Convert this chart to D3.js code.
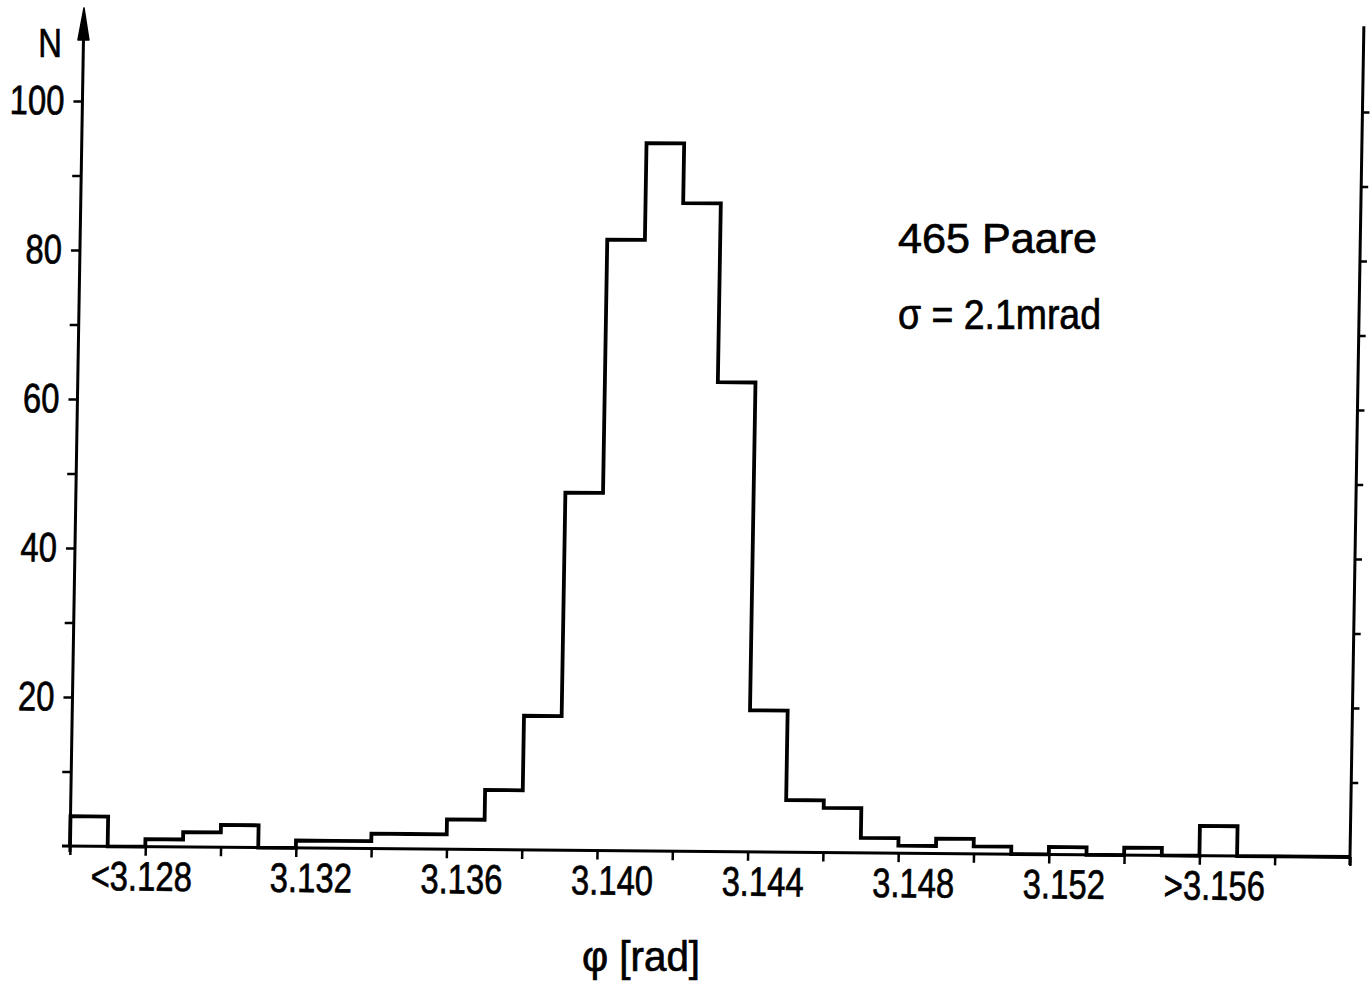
<!DOCTYPE html>
<html>
<head>
<meta charset="utf-8">
<script src="https://cdn.jsdelivr.net/npm/d3@7/dist/d3.min.js"></script>
<style>
  html, body { margin: 0; padding: 0; background: #fff; }
  svg { display: block; }
  text { font-family: "Liberation Sans", Arial, sans-serif; fill: #000; stroke: #000; stroke-width: 0.7px; }
</style>
</head>
<body>
<svg id="chart" width="1370" height="985"></svg>
<script>
// Histogram of the pair angle φ, bin width 1 mrad, starting at 3.126 rad
const binStart = 3.126;
const binWidth = 0.001;
// counts per bin (first bin = underflow "<3.128", bin at 3.156 = overflow ">3.156")
const counts = [4, 0, 1, 2, 3, 0, 1, 1, 2, 2, 4, 8, 18, 48, 82, 95, 87, 63, 19, 7,
                6, 2, 1, 2, 1, 0, 1, 0, 1, 0, 4, 0, 0, 0];

const xDomain = [3.126, 3.160];
const xTicks = [3.126, 3.128, 3.130, 3.132, 3.134, 3.136, 3.138, 3.140, 3.142,
                3.144, 3.146, 3.148, 3.150, 3.152, 3.154, 3.156, 3.158, 3.160];
const xLabelValues = [3.128, 3.132, 3.136, 3.140, 3.144, 3.148, 3.152, 3.156];
const xLabels = ["<3.128", "3.132", "3.136", "3.140", "3.144", "3.148", "3.152", ">3.156"];

const yTicks = [0, 10, 20, 30, 40, 50, 60, 70, 80, 90, 100];
const yLabelValues = [20, 40, 60, 80, 100];
const rightTicks = [10, 20, 30, 40, 50, 60, 70, 80, 90, 100];

const annotations = ["465 Paare", "σ = 2.1mrad"];
const xTitle = "φ [rad]";
const yTitle = "N";

const svg = d3.select("#chart");

// lettering is narrow: regular face squeezed horizontally
const squeeze = 0.8;
const labelSize = 41;

// plot frame: origin at (φ = 3.126, N = 0); slightly sheared like the drawn original
const W = 1280, H = 745;
const x = d3.scaleLinear().domain(xDomain).range([0, W]);
const y = d3.scaleLinear().domain([0, 100]).range([0, -H]);

const plot = svg.append("g")
  .attr("transform", "translate(70,846) matrix(1,0.0086,-0.0167,1,0,0)");

const axisStroke = 3;

// x axis baseline
plot.append("line")
  .attr("x1", x(xDomain[0]) - 8).attr("x2", x(xDomain[1]))
  .attr("y1", y(0)).attr("y2", y(0))
  .attr("stroke", "#000").attr("stroke-width", axisStroke);

// x ticks
const xAxis = plot.append("g")
  .call(d3.axisBottom(x).tickValues(xTicks).tickSize(9).tickSizeOuter(0).tickFormat(""));
xAxis.select(".domain").remove();
xAxis.selectAll(".tick line").attr("stroke", "#000").attr("stroke-width", 2.5);

// x tick labels
const xLab = plot.append("g")
  .call(d3.axisBottom(x).tickValues(xLabelValues).tickSize(0).tickPadding(44)
    .tickFormat((d, i) => xLabels[i]));
xLab.select(".domain").remove();
xLab.selectAll(".tick text")
  .attr("font-size", labelSize)
  .attr("transform", `scale(${squeeze},1)`)
  .attr("dx", (d, i) => (xLabels[i].startsWith("<") ? -4 : 15) / squeeze)
  .attr("dy", 0)
  .attr("fill", "#000");

// left axis line with arrow
const yTop = 109, yTip = 112.5;
plot.append("line")
  .attr("x1", 0).attr("x2", 0)
  .attr("y1", y(0) + 6).attr("y2", y(yTop))
  .attr("stroke", "#000").attr("stroke-width", axisStroke);
plot.append("path")
  .attr("d", `M0,${y(yTip)} L-5.5,${y(yTop) + 6} L5.5,${y(yTop) + 6} Z`)
  .attr("fill", "#000").attr("stroke", "#000").attr("stroke-width", 1.5)
  .attr("stroke-linejoin", "round");

const yAxis = plot.append("g")
  .call(d3.axisLeft(y).tickValues(yTicks).tickSize(9).tickSizeOuter(0).tickPadding(0)
    .tickFormat(d => yLabelValues.includes(d) ? d : ""));
yAxis.select(".domain").remove();
yAxis.selectAll(".tick line").attr("stroke", "#000").attr("stroke-width", 2.5);
yAxis.selectAll(".tick text")
  .attr("font-size", labelSize)
  .attr("x", -18 / squeeze)
  .attr("transform", `scale(${squeeze},1)`)
  .attr("fill", "#000");
yAxis.selectAll(".tick").filter(d => d === 0).select("line").remove();

// right axis
const rTop = 111.5;
plot.append("line")
  .attr("x1", x(xDomain[1])).attr("x2", x(xDomain[1]))
  .attr("y1", y(0) + 8).attr("y2", y(rTop))
  .attr("stroke", "#000").attr("stroke-width", axisStroke);
const rAxis = plot.append("g")
  .attr("transform", `translate(${x(xDomain[1])},0)`)
  .call(d3.axisRight(y).tickValues(rightTicks).tickSize(7).tickSizeOuter(0).tickFormat(""));
rAxis.select(".domain").remove();
rAxis.selectAll(".tick line").attr("stroke", "#000").attr("stroke-width", 2.5);

// histogram outline
const pts = [[binStart, 0]];
counts.forEach((c, i) => {
  const lo = binStart + i * binWidth;
  pts.push([lo, c], [lo + binWidth, c]);
});
pts.push([binStart + counts.length * binWidth, 0]);

plot.append("path")
  .datum(pts)
  .attr("d", d3.line().x(d => x(d[0])).y(d => y(d[1])))
  .attr("fill", "none")
  .attr("stroke", "#000")
  .attr("stroke-width", 3.8)
  .attr("stroke-linejoin", "miter");

// titles and annotation
svg.append("text")
  .attr("transform", `translate(50,57) scale(${squeeze},1)`)
  .attr("text-anchor", "middle")
  .attr("font-size", labelSize)
  .text(yTitle);

svg.append("text")
  .attr("x", 582).attr("y", 971)
  .attr("font-size", 42)
  .attr("textLength", 118)
  .attr("lengthAdjust", "spacingAndGlyphs")
  .text(xTitle);

svg.append("text")
  .attr("x", 898).attr("y", 253)
  .attr("font-size", 43)
  .attr("textLength", 199)
  .attr("lengthAdjust", "spacingAndGlyphs")
  .text(annotations[0]);

svg.append("text")
  .attr("x", 898).attr("y", 329)
  .attr("font-size", 43)
  .attr("textLength", 203)
  .attr("lengthAdjust", "spacingAndGlyphs")
  .text(annotations[1]);
</script>
</body>
</html>
